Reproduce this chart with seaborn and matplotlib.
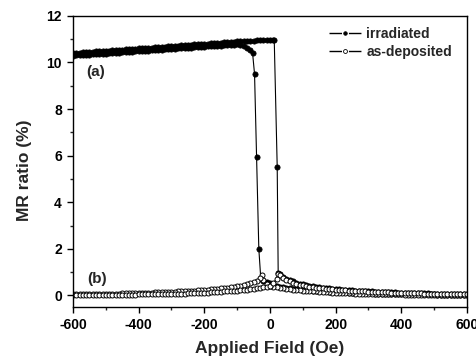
import pandas as pd
import matplotlib
matplotlib.use("Agg")
import matplotlib.pyplot as plt
import seaborn as sns
from matplotlib.lines import Line2D
from matplotlib.ticker import MultipleLocator

# irradiated film, field swept 600 -> -600 Oe
irr_down_field = (list(range(600, 20, -10))
                  + [20, 10, 0, -10, -20, -28, -34, -41, -47, -53]
                  + list(range(-60, -610, -10)))
irr_down_mr = [
    0.02, 0.02, 0.02, 0.02, 0.03, 0.03, 0.03, 0.03, 0.03, 0.03,
    0.04, 0.04, 0.04, 0.04, 0.04, 0.05, 0.05, 0.05, 0.05, 0.06,
    0.06, 0.06, 0.06, 0.07, 0.07, 0.07, 0.08, 0.08, 0.08, 0.09,
    0.09, 0.10, 0.10, 0.11, 0.11, 0.12, 0.12, 0.13, 0.13, 0.14,
    0.15, 0.15, 0.16, 0.17, 0.18, 0.19, 0.20, 0.21, 0.22, 0.23,
    0.25, 0.26, 0.28, 0.29, 0.31, 0.33, 0.35, 0.38,
    0.42, 0.47, 0.53, 0.58, 0.64, 0.72, 2.00, 5.95, 9.50, 10.40,
    10.55, 10.64, 10.70, 10.74, 10.77,
    10.76, 10.75, 10.74, 10.73, 10.72, 10.71, 10.70, 10.70, 10.69, 10.68,
    10.67, 10.66, 10.65, 10.64, 10.63, 10.62, 10.61, 10.60, 10.59, 10.58,
    10.57, 10.56, 10.55, 10.54, 10.53, 10.52, 10.51, 10.50, 10.49, 10.48,
    10.47, 10.46, 10.45, 10.44, 10.43, 10.42, 10.41, 10.40, 10.39, 10.38,
    10.37, 10.36, 10.36, 10.35, 10.34, 10.33, 10.32, 10.31, 10.30, 10.29,
]

# irradiated film, field swept -600 -> 600 Oe
irr_up_field = list(range(-600, 20, 10)) + [13, 22, 25] + list(range(30, 610, 10))
irr_up_mr = [
    10.40, 10.41, 10.42, 10.43, 10.44, 10.45, 10.46, 10.47, 10.48, 10.49,
    10.50, 10.51, 10.52, 10.53, 10.54, 10.55, 10.56, 10.57, 10.58, 10.59,
    10.60, 10.61, 10.62, 10.63, 10.64, 10.65, 10.66, 10.67, 10.68, 10.69,
    10.70, 10.71, 10.72, 10.73, 10.74, 10.75, 10.76, 10.77, 10.78, 10.79,
    10.80, 10.81, 10.82, 10.83, 10.84, 10.85, 10.86, 10.87, 10.88, 10.89,
    10.90,
    10.91, 10.91, 10.92, 10.93, 10.94, 10.95, 10.95, 10.96, 10.97, 10.98, 10.98,
    10.95, 5.52, 0.95,
    0.90, 0.80, 0.72, 0.65, 0.60, 0.55, 0.51, 0.47, 0.44, 0.41,
    0.39, 0.37, 0.35, 0.33, 0.31, 0.30, 0.28, 0.27, 0.26, 0.25,
    0.24, 0.23, 0.22, 0.21, 0.20, 0.19, 0.18, 0.17, 0.17, 0.16,
    0.15, 0.15, 0.14, 0.14, 0.13, 0.13, 0.12, 0.12, 0.11, 0.11,
    0.10, 0.10, 0.10, 0.09, 0.09, 0.09, 0.08, 0.08, 0.08, 0.07,
    0.07, 0.07, 0.06, 0.06, 0.06, 0.06, 0.05, 0.05,
]

# as-deposited film, field swept -600 -> 600 Oe
dep_up_field = list(range(-600, 30, 10)) + [25] + list(range(30, 610, 10))
dep_up_mr = [
    0.00, 0.00, 0.00, 0.00, 0.01, 0.01, 0.01, 0.01, 0.01, 0.01,
    0.02, 0.02, 0.02, 0.02, 0.02, 0.03, 0.03, 0.03, 0.03, 0.03,
    0.04, 0.04, 0.04, 0.04, 0.05, 0.05, 0.05, 0.05, 0.06, 0.06, 0.06,
    0.07, 0.07, 0.08, 0.08, 0.09, 0.09, 0.10, 0.10, 0.11, 0.12,
    0.12, 0.13, 0.14, 0.15, 0.16, 0.17, 0.18, 0.19, 0.20, 0.21,
    0.22, 0.24, 0.25, 0.27, 0.29, 0.31, 0.33, 0.35, 0.38, 0.42, 0.52, 0.72,
    0.93,
    0.86, 0.74, 0.66, 0.60, 0.55, 0.50, 0.46, 0.43, 0.40, 0.38,
    0.36, 0.34, 0.32, 0.30, 0.29, 0.27, 0.26, 0.25, 0.24, 0.23,
    0.22, 0.21, 0.20, 0.19, 0.18, 0.17, 0.17, 0.16, 0.15, 0.15,
    0.14, 0.14, 0.13, 0.13, 0.12, 0.12, 0.11, 0.11, 0.10, 0.10,
    0.10, 0.09, 0.09, 0.09, 0.08, 0.08, 0.08, 0.07, 0.07, 0.07,
    0.06, 0.06, 0.06, 0.06, 0.05, 0.05, 0.05, 0.05,
]

# as-deposited film, field swept 600 -> -600 Oe
dep_down_field = list(range(600, -30, -10)) + [-25] + list(range(-30, -610, -10))
dep_down_mr = [
    0.00, 0.00, 0.00, 0.00, 0.01, 0.01, 0.01, 0.01, 0.01, 0.01,
    0.02, 0.02, 0.02, 0.02, 0.02, 0.03, 0.03, 0.03, 0.03, 0.03,
    0.04, 0.04, 0.04, 0.04, 0.05, 0.05, 0.05, 0.05, 0.06, 0.06, 0.06,
    0.07, 0.07, 0.08, 0.08, 0.09, 0.09, 0.10, 0.10, 0.11, 0.12,
    0.12, 0.13, 0.14, 0.15, 0.16, 0.17, 0.18, 0.19, 0.20, 0.21,
    0.22, 0.24, 0.25, 0.27, 0.29, 0.31, 0.33, 0.35, 0.38, 0.42, 0.50, 0.68,
    0.86,
    0.76, 0.64, 0.57, 0.52, 0.48, 0.45, 0.42, 0.39,
    0.37, 0.35, 0.33, 0.31, 0.30, 0.28, 0.27, 0.26, 0.25, 0.24,
    0.23, 0.22, 0.21, 0.20, 0.19, 0.18, 0.17, 0.17, 0.16, 0.15,
    0.15, 0.14, 0.14, 0.13, 0.13, 0.12, 0.12, 0.11, 0.11, 0.10,
    0.10, 0.10, 0.09, 0.09, 0.09, 0.08, 0.08, 0.08, 0.07, 0.07,
    0.07, 0.06, 0.06, 0.06, 0.06, 0.05, 0.05, 0.05, 0.05, 0.04,
]


def loop_frame(down_field, down_mr, up_field, up_mr):
    # full hysteresis loop: down sweep followed by up sweep
    return pd.DataFrame({
        "field": down_field + up_field,
        "mr": down_mr + up_mr,
    })


def main():
    sns.set_style("ticks")
    plt.rcParams["font.family"] = ["Liberation Sans", "DejaVu Sans"]
    plt.rcParams["font.weight"] = "bold"
    plt.rcParams["axes.labelweight"] = "bold"
    plt.rcParams["axes.edgecolor"] = "black"
    plt.rcParams["axes.linewidth"] = 1.0
    plt.rcParams["axes.unicode_minus"] = False

    irr = loop_frame(irr_down_field, irr_down_mr, irr_up_field, irr_up_mr)
    dep = loop_frame(dep_down_field, dep_down_mr, dep_up_field, dep_up_mr)

    fig, ax = plt.subplots(figsize=(4.77, 3.6), dpi=100)
    fig.subplots_adjust(left=0.153, right=0.979, top=0.956, bottom=0.147)

    sns.lineplot(data=irr, x="field", y="mr", sort=False, estimator=None,
                 color="black", linewidth=0.8, marker="o", markersize=3.8,
                 markerfacecolor="black", markeredgecolor="black",
                 markeredgewidth=0.5, legend=False, ax=ax)
    sns.lineplot(data=dep, x="field", y="mr", sort=False, estimator=None,
                 color="black", linewidth=0.8, marker="o", markersize=3.6,
                 markerfacecolor="white", markeredgecolor="black",
                 markeredgewidth=0.7, legend=False, ax=ax)

    ax.set_xlim(-600, 600)
    ax.set_ylim(-0.5, 12)
    ax.xaxis.set_major_locator(MultipleLocator(200))
    ax.xaxis.set_minor_locator(MultipleLocator(100))
    ax.yaxis.set_major_locator(MultipleLocator(2))
    ax.yaxis.set_minor_locator(MultipleLocator(1))
    ax.tick_params(which="major", direction="out", length=4.5, width=1,
                   labelsize=10, colors="black")
    ax.tick_params(which="minor", direction="out", length=2.5, width=1)
    for lbl in ax.get_xticklabels() + ax.get_yticklabels():
        lbl.set_fontweight("bold")

    ax.set_xlabel("Applied Field (Oe)", fontsize=12.5, fontweight="bold", labelpad=6)
    ax.set_ylabel("MR ratio (%)", fontsize=12.5, fontweight="bold")
    ax.yaxis.set_label_coords(-0.104, 0.47)

    ax.text(-530, 9.6, "(a)", fontsize=11, fontweight="bold", ha="center", va="center")
    ax.text(-527, 0.7, "(b)", fontsize=11, fontweight="bold", ha="center", va="center")

    # legend keys drawn as "— • —"
    dash = (0, (9, 5, 9))
    handles = [
        Line2D([], [], color="black", linewidth=1.0, linestyle=dash,
               marker="o", markersize=2.6, markerfacecolor="black",
               markeredgecolor="black", markeredgewidth=0.5),
        Line2D([], [], color="black", linewidth=1.0, linestyle=dash,
               marker="o", markersize=2.8, markerfacecolor="white",
               markeredgecolor="black", markeredgewidth=0.6),
    ]
    ax.legend(handles, ["irradiated", "as-deposited"], loc="upper right",
              bbox_to_anchor=(0.99, 1.0), frameon=False,
              prop={"weight": "bold", "size": 10}, handlelength=2.35,
              handletextpad=0.35, labelspacing=0.3, borderaxespad=0.4)

    fig.savefig("out.png", dpi=100)


if __name__ == "__main__":
    main()
